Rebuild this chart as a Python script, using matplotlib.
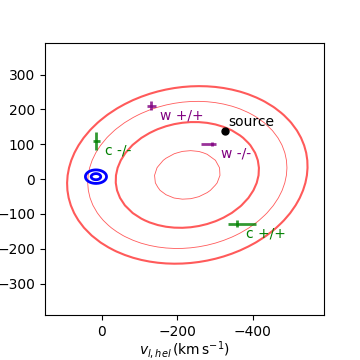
import matplotlib
matplotlib.use('Agg')
import matplotlib.pyplot as plt
import numpy as np

# distribution de la population (contours rouges)
pop_centre = (-227, 12)
pop_sigma = (130, 104)
pop_rho = -0.1
pop_levels = [0.67, 1.46, 2.03, 2.45]   # distances (en sigma) des contours

# petite distribution bleue
blue_centre = (15, 7)
blue_sigma = (18, 12.5)
blue_levels = [0.7, 1.55]

# source
source_x, source_y = -326, 139

# points avec barres d'erreur
labels = ['w +/+', 'w -/-', 'c -/-', 'c +/+']
pt_x = [-132, -292, 14, -359]
pt_y = [210, 101, 110, -128]
xerr_lo = [11, 11, 10, 49]
xerr_hi = [11, 28, 10, 25]
yerr = [13, 5, 26, 10]
colors = ['purple', 'purple', 'green', 'green']


def mahalanobis(X, Y, c, s, rho=0.0):
    a = (X - c[0]) / s[0]
    b = (Y - c[1]) / s[1]
    return np.sqrt((a**2 - 2*rho*a*b + b**2) / (1 - rho**2))


fig = plt.figure(figsize=(3.6, 3.6), dpi=100)
ax = fig.add_axes([0.125, 0.125, 0.776, 0.755])

gx = np.linspace(200, -650, 40)
gy = np.linspace(-420, 420, 40)
X, Y = np.meshgrid(gx, gy)
D = mahalanobis(X, Y, pop_centre, pop_sigma, pop_rho)
ax.contour(X, Y, D, levels=pop_levels, colors='#ff5a5a',
           linewidths=[0.6, 1.5, 0.6, 1.5])

bx = np.linspace(-60, 90, 120)
by = np.linspace(-50, 60, 120)
BX, BY = np.meshgrid(bx, by)
DB = mahalanobis(BX, BY, blue_centre, blue_sigma)
ax.contour(BX, BY, DB, levels=blue_levels, colors='blue', linewidths=2)

for i in range(len(labels)):
    ax.errorbar(pt_x[i], pt_y[i],
                xerr=[[xerr_lo[i]], [xerr_hi[i]]], yerr=[[yerr[i]], [yerr[i]]],
                color=colors[i], lw=2, capsize=0, fmt='none', alpha=0.8)
    ax.annotate(labels[i], (pt_x[i], pt_y[i]), xytext=(6.5, -7),
                textcoords='offset points', color=colors[i],
                fontsize=10, ha='left', va='center')

ax.plot(source_x, source_y, 'o', color='black', ms=5)
ax.annotate('source', (source_x, source_y), xytext=(2.5, 6),
            textcoords='offset points', color='black',
            fontsize=10, ha='left', va='center')

ax.set_xlim(150, -590)
ax.set_ylim(-390, 390)
ax.set_xticks([0, -200, -400])
ax.set_yticks([-300, -200, -100, 0, 100, 200, 300])
ax.set_xlabel(r'$v_{l,hel}\,(\mathrm{km\,s^{-1}})$', labelpad=0.5)

fig.savefig('out.png', dpi=100)
